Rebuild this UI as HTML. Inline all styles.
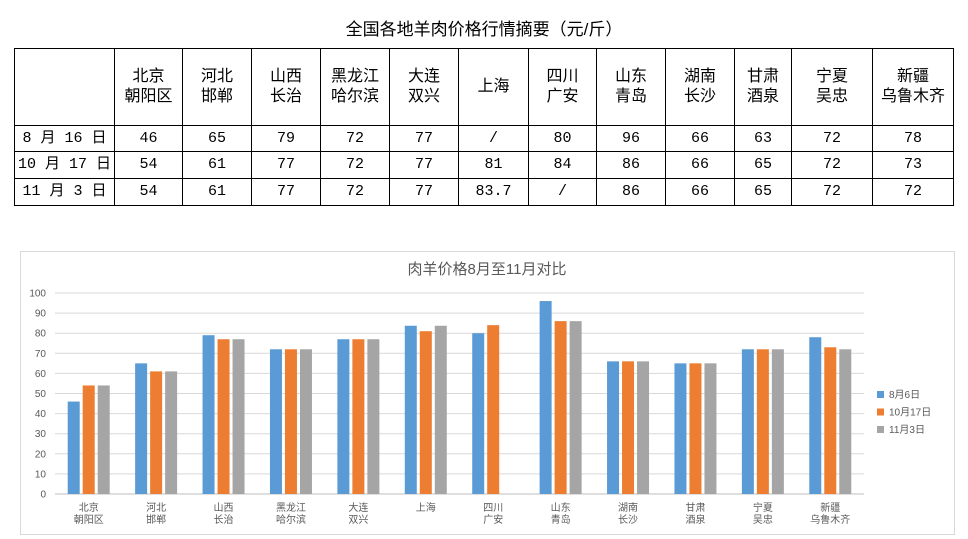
<!DOCTYPE html>
<html><head><meta charset="utf-8">
<style>
body{margin:0;width:968px;height:539px;background:#fff;position:relative;overflow:hidden;font-family:"Liberation Sans","Noto Sans CJK SC",sans-serif;}
.t{position:absolute;left:0;top:15px;width:968px;text-align:center;font-size:17px;color:#000;}
.c{position:absolute;border:1px solid #000;box-sizing:border-box;display:flex;align-items:center;justify-content:center;text-align:center;font-size:15px;line-height:20px;color:#000;font-family:"Liberation Mono","Noto Sans CJK SC",monospace;}
.h{font-family:"Liberation Sans","Noto Sans CJK SC",sans-serif;font-size:16px;}
</style></head><body>
<div class="t">全国各地羊肉价格行情摘要（元/斤）</div>
<div id="tbl"></div>
<svg id="chart" width="968" height="539" style="position:absolute;left:0;top:0" font-family="Liberation Sans, Noto Sans CJK SC, sans-serif"></svg>
<script>
const categories=["北京\n朝阳区","河北\n邯郸","山西\n长治","黑龙江\n哈尔滨","大连\n双兴","上海","四川\n广安","山东\n青岛","湖南\n长沙","甘肃\n酒泉","宁夏\n吴忠","新疆\n乌鲁木齐"];
const seriesNames=["8月6日","10月17日","11月3日"];
const aug=[46,65,79,72,77,83.7,80,96,66,65,72,78];
const oct=[54,61,77,72,77,81,84,86,66,65,72,73];
const nov=[54,61,77,72,77,83.7,null,86,66,65,72,72];
const yTicks=[0,10,20,30,40,50,60,70,80,90,100];
const rowLabels=["8 月 16 日","10 月 17 日","11 月 3 日"];
const tRow1=["46","65","79","72","77","/","80","96","66","63","72","78"];
const tRow2=["54","61","77","72","77","81","84","86","66","65","72","73"];
const tRow3=["54","61","77","72","77","83.7","/","86","66","65","72","72"];

// table
const colX=[14,114,182,251,320,389,458,528,596,665,734,791,872,953];
const rowY=[48,125,151,178,205];
const tbl=document.getElementById('tbl');
function cell(x1,y1,x2,y2,txt,cls){
  const d=document.createElement('div');
  d.className='c'+(cls?' '+cls:'');
  d.style.left=x1+'px';d.style.top=y1+'px';d.style.width=(x2-x1+1)+'px';d.style.height=(y2-y1+1)+'px';
  d.innerHTML=txt.replace('\n','<br>');
  
  
  tbl.appendChild(d);
}
cell(colX[0],rowY[0],colX[1],rowY[1],'','h');
categories.forEach((c,i)=>cell(colX[i+1],rowY[0],colX[i+2],rowY[1],c,'h'));
[tRow1,tRow2,tRow3].forEach((r,ri)=>{
  cell(colX[0],rowY[ri+1],colX[1],rowY[ri+2],rowLabels[ri]);
  r.forEach((v,i)=>cell(colX[i+1],rowY[ri+1],colX[i+2],rowY[ri+2],v));
});

// chart
const svg=document.getElementById('chart');
const NS='http://www.w3.org/2000/svg';
function el(tag,attrs,txt){const e=document.createElementNS(NS,tag);for(const k in attrs)e.setAttribute(k,attrs[k]);if(txt!==undefined)e.textContent=txt;svg.appendChild(e);return e;}
const px0=55,px1=864,py0=494,py1=293;
const yScale=v=>py0-(v-0)/(100-0)*(py0-py1);
const band=(px1-px0)/categories.length;
const xCenter=i=>px0+band*(i+0.5);
const frame=el('rect',{x:20.5,y:251.5,width:934,height:283,fill:'#fff',stroke:'#d9d9d9'});


const title=el('text',{x:487,y:274,'text-anchor':'middle','font-size':15,fill:'#595959'},'肉羊价格8月至11月对比');


yTicks.forEach(t=>{
  const g=el('line',{x1:px0,x2:px1,y1:yScale(t),y2:yScale(t),stroke:t===0?'#bfbfbf':'#d9d9d9'});
  
  
  const l=el('text',{x:46,y:yScale(t)+3.5,'text-anchor':'end','font-size':10,fill:'#595959'},t);
  
  
});
const colors=['#5b9bd5','#ed7d31','#a5a5a5'];
const bw=12,step=15;
[aug,oct,nov].forEach((s,si)=>{
  s.forEach((v,i)=>{
    if(v===null)return;
    const x=xCenter(i)+(si-1)*step-bw/2;
    const r=el('rect',{x:x,y:yScale(v),width:bw,height:py0-yScale(v),fill:colors[si]});
    
    
  });
});
categories.forEach((c,i)=>{
  c.split('\n').forEach((ln,li)=>{
    const t=el('text',{x:xCenter(i),y:511+li*12,'text-anchor':'middle','font-size':10,fill:'#595959'},ln);
    
    
  });
});
seriesNames.forEach((n,i)=>{
  const y=391+i*17.5;
  const r=el('rect',{x:877,y:y,width:7,height:7,fill:colors[i]});
  
  
  const t=el('text',{x:889,y:y+7,'font-size':10,fill:'#595959'},n);
  
  
});
</script>
</body></html>
